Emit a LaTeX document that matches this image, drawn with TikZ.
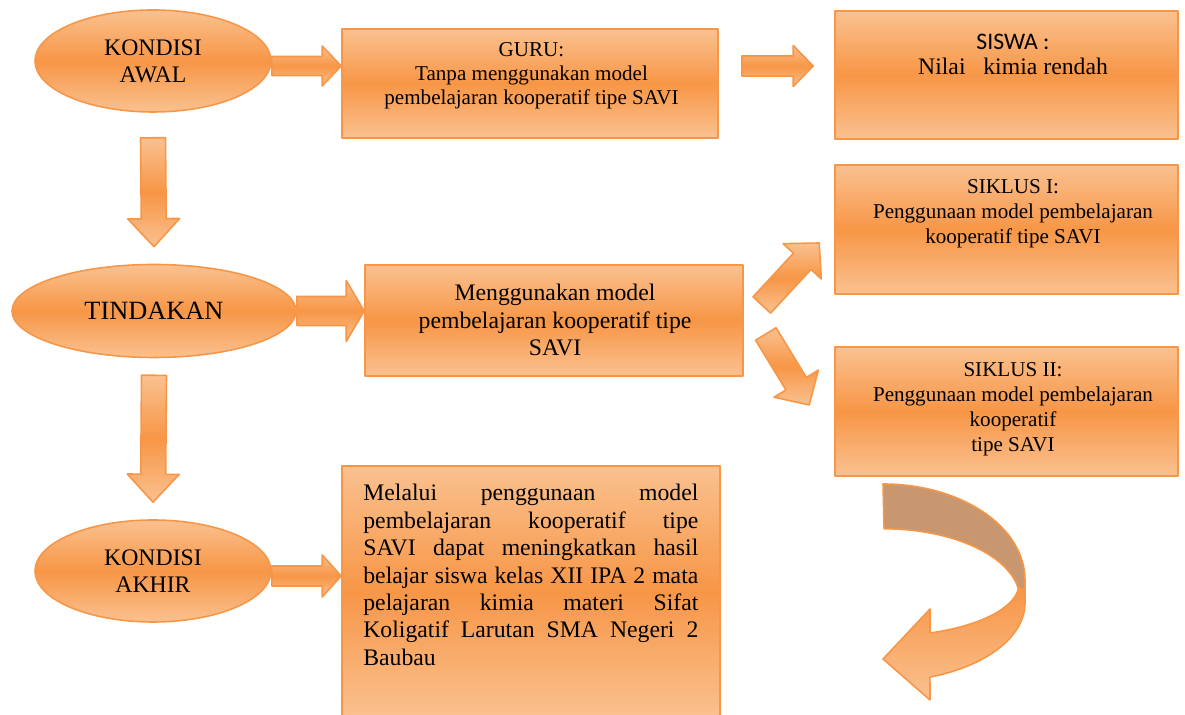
\documentclass[tikz,border=0pt]{standalone}
\usepackage{fontspec}
\setmainfont{Liberation Serif}
\newfontfamily\calfont{Carlito}
\usetikzlibrary{calc,shapes.geometric}
\definecolor{ffttzz}{rgb}{0.969,0.588,0.275}
\definecolor{ffccxx}{rgb}{0.980,0.757,0.565}
\definecolor{ccxxtt}{rgb}{0.788,0.592,0.435}

\begin{document}
\begin{tikzpicture}[line cap=round,line join=round,x=1.0cm,y=1.0cm,
  orgshade/.style={draw=ffttzz,line width=0.9pt,top color=ffccxx,bottom color=ffccxx,middle color=ffttzz},
  oval/.style={orgshade,ellipse,inner sep=0pt,align=center},
  kotak/.style={orgshade,rectangle,inner sep=0pt},
  teks/.style={align=center,inner sep=0pt},
  fat/.style n args={3}{orgshade,
    to path={let \p1=(\tikztostart), \p2=(\tikztotarget), \n1={atan2(\y2-\y1,\x2-\x1)} in
      ($(\p1)+(\n1+90:#1)$) -- ($(\p2)+(\n1+180:#3)+(\n1+90:#1)$) -- ($(\p2)+(\n1+180:#3)+(\n1+90:#2)$) -- (\p2)
      -- ($(\p2)+(\n1+180:#3)+(\n1-90:#2)$) -- ($(\p2)+(\n1+180:#3)+(\n1-90:#1)$) -- ($(\p1)+(\n1-90:#1)$) -- cycle}}]
\useasboundingbox (0,0) rectangle (23.7,14.3);
% ovals on the left
\node[oval,minimum width=4.72cm,minimum height=2.04cm,font=\fontsize{13.5}{15.3}\selectfont] (e1) at (3.06,13.08) {KONDISI\\AWAL};
\node[oval,minimum width=5.68cm,minimum height=1.86cm,font=\fontsize{15}{17}\selectfont] (e2) at (3.08,8.08) {TINDAKAN};
\node[oval,minimum width=4.72cm,minimum height=2.04cm,font=\fontsize{13.5}{15.3}\selectfont] (e3) at (3.06,2.88) {KONDISI\\AKHIR};
% boxes
\node[kotak,minimum width=7.52cm,minimum height=2.18cm] (guru) at (10.6,12.63) {};
\node[kotak,minimum width=6.86cm,minimum height=2.56cm] (siswa) at (20.13,12.8) {};
\node[kotak,minimum width=7.56cm,minimum height=2.22cm] (m) at (11.08,7.89) {};
\node[kotak,minimum width=6.86cm,minimum height=2.58cm] (s1) at (20.13,9.71) {};
\node[kotak,minimum width=6.86cm,minimum height=2.58cm] (s2) at (20.13,6.07) {};
\node[kotak,minimum width=7.56cm,minimum height=5.04cm] (akhir) at (10.62,2.46) {};
% texts
\node[teks,font=\fontsize{12}{13.6}\selectfont] (gurut) at (10.63,12.78) {GURU:\\Tanpa menggunakan model\\pembelajaran kooperatif tipe SAVI};
\node[teks,font=\fontsize{13.5}{14.2}\selectfont] (siswat) at (20.26,13.21) {{\calfont SISWA :}\\Nilai\ \ \ kimia rendah};
\node[teks,font=\fontsize{13.5}{15.9}\selectfont] (mt) at (11.1,7.9) {Menggunakan model\\pembelajaran kooperatif tipe\\SAVI};
\node[teks,font=\fontsize{12}{14.2}\selectfont] (s1t) at (20.26,10.02) {SIKLUS I:\\Penggunaan model pembelajaran\\kooperatif tipe SAVI};
\node[teks,font=\fontsize{12}{14.2}\selectfont] (s2t) at (20.26,6.11) {SIKLUS II:\\Penggunaan model pembelajaran\\kooperatif\\tipe SAVI};
\node[inner sep=0pt,anchor=north west,text width=6.7cm,align=justify,font=\fontsize{13.5}{15.6}\selectfont] (akhirt) at (7.26,4.62)
  {Melalui penggunaan model\linebreak pembelajaran kooperatif tipe\linebreak SAVI dapat meningkatkan hasil\linebreak belajar siswa kelas XII IPA 2 mata\linebreak pelajaran kimia materi Sifat\linebreak Koligatif Larutan SMA Negeri 2\linebreak Baubau};
% block arrows
\coordinate (r1) at (0,12.98);
\draw[fat={0.19cm}{0.4cm}{0.38cm}] (e1.east |- r1) to (guru.west |- r1);
\draw[fat={0.2cm}{0.41cm}{0.4cm}] ([xshift=0.46cm]guru.east |- r1) to ([xshift=-0.42cm]siswa.west |- r1);
\draw[fat={0.25cm}{0.52cm}{0.56cm}] ([yshift=-0.5cm]e1.south) to ([yshift=0.34cm]e2.north);
\draw[fat={0.29cm}{0.61cm}{0.36cm}] (e2.east) to (e2.east -| m.west);
\draw[fat={0.24cm}{0.52cm}{0.5cm}] ([shift={(0.36cm,0.31cm)}]m.east) to ([shift={(-0.3cm,-0.27cm)}]s1.west);
\draw[fat={0.24cm}{0.52cm}{0.5cm}] ([shift={(0.44cm,-0.27cm)}]m.east) to ([shift={(-0.5cm,0.13cm)}]s2.west);
\draw[fat={0.25cm}{0.52cm}{0.56cm}] ([yshift=-0.34cm]e2.south) to ([yshift=0.34cm]e3.north);
\draw[fat={0.2cm}{0.42cm}{0.38cm}] ([yshift=-0.1cm]e3.east) to ([yshift=-0.1cm]e3.east -| akhir.west);
% u-turn arrow
\draw[draw=ffttzz,line width=0.9pt,fill=ccxxtt] (17.66,4.62) arc[start angle=90,end angle=0,x radius=2.84,y radius=1.92] -- (20.5,2.5) -- (20.36,2.55) arc[start angle=10,end angle=90,x radius=2.72,y radius=1.42] -- cycle;
\draw[draw=ffttzz,line width=0.9pt,top color=ffttzz,bottom color=ffccxx] (20.36,2.55) -- (20.5,2.5) -- (20.5,2.24) arc[start angle=0,end angle=-70.7,x radius=2.84,y radius=1.57] -- (18.6,0.3) -- (17.66,1.12) -- (18.6,2.12) -- (18.6,1.64) arc[start angle=-69.8,end angle=-5,x radius=2.72,y radius=1.05] -- cycle;
\end{tikzpicture}
\end{document}
